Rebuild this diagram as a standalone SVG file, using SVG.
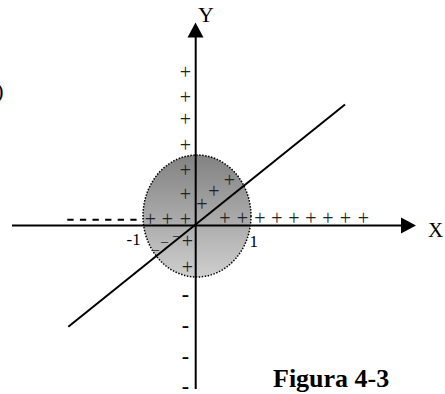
<svg xmlns="http://www.w3.org/2000/svg" width="445" height="394" viewBox="0 0 445 394">
<style>
.p{font-family:"Liberation Serif",serif;font-size:20px;fill:#222;text-anchor:middle}
.m{font-family:"Liberation Serif",serif;font-size:14px;fill:#222;text-anchor:middle}
.n{font-family:"Liberation Serif",serif;font-size:22px;font-weight:bold;fill:#000;text-anchor:middle}
.lbl{font-family:"Liberation Serif",serif;fill:#000}
.ax{stroke:#000;stroke-width:2;fill:none}
</style>
<defs>
<linearGradient id="g" x1="0" y1="0" x2="0" y2="1">
<stop offset="0" stop-color="#828282"/>
<stop offset="1" stop-color="#cecece"/>
</linearGradient>
</defs>
<rect width="445" height="394" fill="#fff"/>
<text class="lbl" x="3.5" y="98" font-size="22" text-anchor="end">)</text>
<g id="region">
<ellipse cx="197" cy="216" rx="54" ry="61" fill="url(#g)" stroke="#000" stroke-width="1.5" stroke-dasharray="1.5 1.5"/>
</g>
<g id="connectors">
<line class="ax" x1="12" y1="225.5" x2="402" y2="225.5"/>
<polygon points="401,217.5 416,225.5 401,233.5" fill="#000"/>
<line class="ax" x1="195.7" y1="389" x2="195.7" y2="36"/>
<polygon points="187.5,37.5 195.5,22.5 203.5,37.5" fill="#000"/>
<line class="ax" x1="345" y1="104.5" x2="68.3" y2="326.7"/>
<line x1="67.3" y1="219.7" x2="140" y2="219.7" stroke="#000" stroke-width="2" stroke-dasharray="6.3 6.3"/>
</g>
<g id="labels">
<text class="lbl" x="198" y="22" font-size="22">Y</text>
<text class="lbl" x="428" y="237" font-size="21">X</text>
<text class="lbl" x="126.5" y="245" font-size="17">-1</text>
<text class="lbl" x="249.5" y="247" font-size="17">1</text>
<text class="lbl" x="273" y="387" font-size="26" font-weight="bold">Figura 4-3</text>
</g>
<g id="plus">
<text class="p" x="185.5" y="78.5">+</text>
<text class="p" x="185.5" y="103.5">+</text>
<text class="p" x="185.5" y="125.5">+</text>
<text class="p" x="185.5" y="151.5">+</text>
<text class="p" x="185.5" y="176.5">+</text>
<text class="p" x="185.5" y="200.5">+</text>
<text class="p" x="185.5" y="225.5">+</text>
<text class="p" x="150.5" y="225.5">+</text>
<text class="p" x="167.5" y="225.5">+</text>
<text class="p" x="187.5" y="247.5">+</text>
<text class="p" x="187.5" y="273.5">+</text>
<text class="p" x="202" y="210.5">+</text>
<text class="p" x="214" y="197.5">+</text>
<text class="p" x="229.5" y="187">+</text>
<text class="p" x="225" y="225">+</text>
<text class="p" x="242.5" y="225">+</text>
<text class="p" x="260" y="225">+</text>
<text class="p" x="277" y="225">+</text>
<text class="p" x="294" y="225">+</text>
<text class="p" x="311" y="225">+</text>
<text class="p" x="328" y="225">+</text>
<text class="p" x="345.5" y="225">+</text>
<text class="p" x="363.5" y="225">+</text>
</g>
<g id="minus">
<text class="m" x="155.5" y="253.5">–</text>
<text class="m" x="164.5" y="246">–</text>
<text class="m" x="176.5" y="240">–</text>
<text class="n" x="185.5" y="301">-</text>
<text class="n" x="185.5" y="332">-</text>
<text class="n" x="185.5" y="362.5">-</text>
<text class="n" x="185.5" y="392.5">-</text>
</g>
</svg>
